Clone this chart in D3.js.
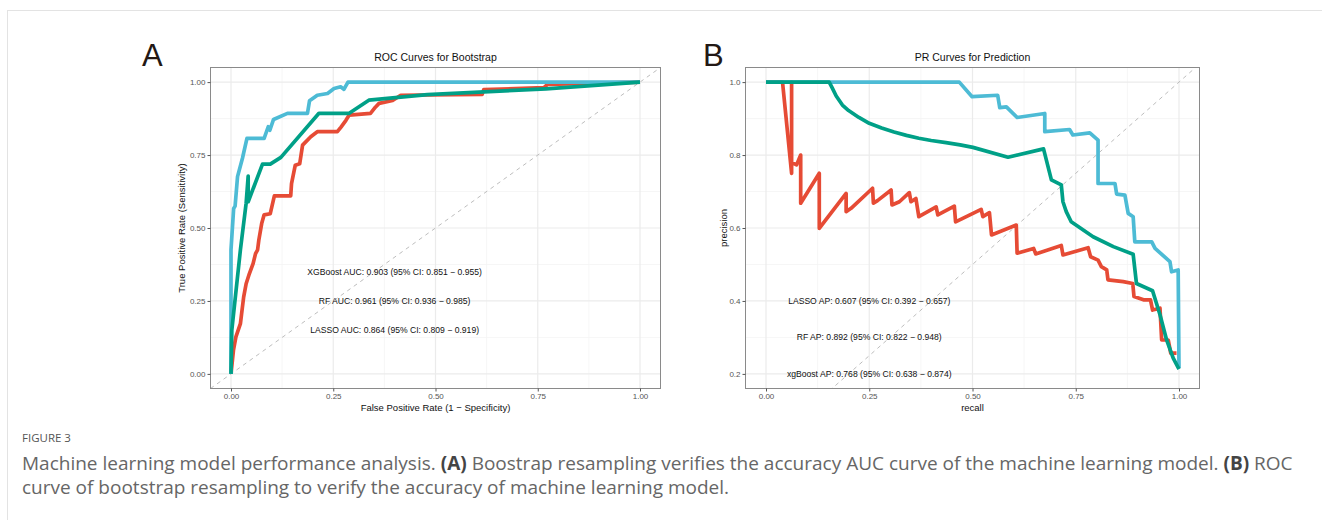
<!DOCTYPE html>
<html lang="en">
<head>
<meta charset="UTF-8">
<title>Figure 3</title>
<script src="https://d3js.org/d3.v7.min.js"></script>
<style>
  body { margin: 0; background: #fff; }
  .plot text { font-family: "Liberation Sans", Arial, sans-serif; }
  .caption text { font-family: "Open Sans", "Noto Sans", sans-serif; }
</style>
</head>
<body>
<script>
// ROC curves (fpr, tpr)
const rocLasso = [[0,0],[0.006,0.081],[0.012,0.127],[0.023,0.172],[0.026,0.207],[0.031,0.264],[0.037,0.309],
  [0.045,0.344],[0.054,0.378],[0.060,0.412],[0.065,0.425],[0.068,0.458],[0.075,0.515],[0.081,0.545],[0.096,0.549],
  [0.106,0.61],[0.146,0.61],[0.148,0.652],[0.157,0.715],[0.168,0.720],[0.175,0.784],[0.195,0.813],[0.211,0.83],
  [0.26,0.83],[0.269,0.846],[0.281,0.869],[0.289,0.887],[0.341,0.893],[0.353,0.914],[0.362,0.927],[0.395,0.937],
  [0.415,0.955],[0.614,0.958],[0.618,0.974],[0.765,0.981],[0.774,0.992],[1,1]];
const rocRf = [[0,0],[0,0.425],[0.0065,0.567],[0.010,0.575],[0.016,0.676],[0.028,0.739],[0.039,0.807],[0.081,0.807],
  [0.091,0.847],[0.095,0.835],[0.104,0.872],[0.138,0.893],[0.187,0.893],[0.192,0.936],[0.211,0.955],[0.236,0.961],
  [0.252,0.978],[0.268,0.984],[0.276,0.975],[0.286,1.0],[1,1]];
const rocXgb = [[0,0],[0.002,0.15],[0.023,0.425],[0.037,0.585],[0.042,0.678],[0.042,0.59],[0.077,0.719],[0.096,0.719],
  [0.122,0.742],[0.215,0.893],[0.289,0.893],[0.337,0.938],[0.48,0.957],[0.77,0.977],[1,1]];

// PR curves (recall, precision)
const prLasso = [[0,1],[0.040,1],[0.062,0.75],[0.062,1],[0.062,0.78],[0.074,0.773],[0.084,0.80],[0.084,0.668],
  [0.096,0.69],[0.129,0.75],[0.129,0.599],[0.141,0.617],[0.194,0.695],[0.194,0.645],[0.206,0.654],[0.258,0.709],
  [0.260,0.668],[0.270,0.675],[0.303,0.704],[0.305,0.663],[0.323,0.672],[0.347,0.697],[0.351,0.672],[0.363,0.681],
  [0.370,0.631],[0.412,0.658],[0.416,0.636],[0.456,0.66],[0.459,0.617],[0.521,0.651],[0.525,0.631],[0.541,0.642],
  [0.546,0.581],[0.606,0.608],[0.608,0.531],[0.648,0.544],[0.653,0.529],[0.715,0.552],[0.719,0.526],[0.780,0.546],
  [0.786,0.521],[0.804,0.512],[0.812,0.494],[0.825,0.485],[0.828,0.458],[0.865,0.453],[0.888,0.448],[0.891,0.412],
  [0.914,0.403],[0.931,0.403],[0.936,0.375],[0.954,0.38],[0.958,0.293],[0.974,0.293],[0.980,0.257],[0.994,0.257]];
const prRf = [[0,1],[0.468,1],[0.499,0.96],[0.561,0.964],[0.566,0.93],[0.582,0.932],[0.608,0.903],[0.675,0.914],
  [0.675,0.864],[0.735,0.87],[0.743,0.855],[0.784,0.861],[0.804,0.841],[0.804,0.722],[0.845,0.722],[0.849,0.693],
  [0.869,0.69],[0.877,0.64],[0.889,0.631],[0.893,0.562],[0.934,0.562],[0.942,0.544],[0.978,0.508],[0.982,0.48],
  [0.998,0.485],[1,0.216]];
const prXgb = [[0,1],[0.153,1],[0.160,0.985],[0.170,0.962],[0.185,0.937],[0.200,0.922],[0.225,0.903],[0.250,0.887],
  [0.280,0.874],[0.310,0.863],[0.340,0.854],[0.370,0.846],[0.400,0.840],[0.436,0.834],[0.470,0.828],[0.501,0.821],
  [0.586,0.794],[0.672,0.817],[0.691,0.732],[0.715,0.718],[0.719,0.672],[0.727,0.645],[0.739,0.617],
  [0.792,0.576],[0.841,0.549],[0.889,0.528],[0.897,0.448],[0.936,0.428],[0.954,0.362],[0.970,0.293],[0.986,0.243],
  [1,0.213]];

const rocLabels = ["XGBoost AUC: 0.903 (95% CI: 0.851 \u2212 0.955)",
  "RF AUC: 0.961 (95% CI: 0.936 \u2212 0.985)",
  "LASSO AUC: 0.864 (95% CI: 0.809 \u2212 0.919)"];
const rocLabelY = [0.35, 0.25, 0.15];
const prLabels = ["LASSO AP: 0.607 (95% CI: 0.392 \u2212 0.657)",
  "RF AP: 0.892 (95% CI: 0.822 \u2212 0.948)",
  "xgBoost AP: 0.768 (95% CI: 0.638 \u2212 0.874)"];
const prLabelY = [0.4, 0.3, 0.2];

const colors = { lasso: "#E64B35", rf: "#4DBBD5", xgb: "#00A087" };

const svg = d3.select("body").append("svg")
  .attr("width", 1322).attr("height", 520);

// card border
svg.append("rect").attr("x", 7.5).attr("y", 10.5).attr("width", 1330).attr("height", 530)
  .attr("fill", "none").attr("stroke", "#e3e3e3");

function panel(opt) {
  const { left, right, top, bottom } = opt;
  const x = d3.scaleLinear().domain([0, 1]).range([left + 20.5, right - 20.5]);
  const y = d3.scaleLinear().domain(opt.yDomain).range([bottom - 14.6, top + 14.6]);
  const g = svg.append("g").attr("class", "plot");

  // minor grid
  const xMinor = d3.range(0.125, 1, 0.25);
  g.selectAll(".xm").data(xMinor).join("line")
    .attr("x1", d => x(d)).attr("x2", d => x(d)).attr("y1", top).attr("y2", bottom)
    .attr("stroke", "#f4f4f4").attr("stroke-width", 0.8);
  g.selectAll(".ym").data(opt.yMinor).join("line")
    .attr("y1", d => y(d)).attr("y2", d => y(d)).attr("x1", left).attr("x2", right)
    .attr("stroke", "#f4f4f4").attr("stroke-width", 0.8);
  // major grid
  g.selectAll(".xg").data(opt.xTicks).join("line")
    .attr("x1", d => x(d)).attr("x2", d => x(d)).attr("y1", top).attr("y2", bottom)
    .attr("stroke", "#ebebeb").attr("stroke-width", 1.2);
  g.selectAll(".yg").data(opt.yTicks).join("line")
    .attr("y1", d => y(d)).attr("y2", d => y(d)).attr("x1", left).attr("x2", right)
    .attr("stroke", "#ebebeb").attr("stroke-width", 1.2);

  const clipId = "clip" + opt.id;
  svg.append("clipPath").attr("id", clipId).append("rect")
    .attr("x", left).attr("y", top).attr("width", right - left).attr("height", bottom - top);

  // diagonal reference line
  const dl = x.invert(left), dr = x.invert(right);
  g.append("line").attr("clip-path", `url(#${clipId})`)
    .attr("x1", x(dl)).attr("y1", y(dl)).attr("x2", x(dr)).attr("y2", y(dr))
    .attr("stroke", "#bdbdbd").attr("stroke-width", 1).attr("stroke-dasharray", "4,4");

  const line = d3.line().x(d => x(d[0])).y(d => y(d[1]));
  opt.series.forEach(s => {
    g.append("path").datum(s.data).attr("d", line)
      .attr("fill", "none").attr("stroke", s.color).attr("stroke-width", 3.7)
      .attr("stroke-linejoin", "round");
  });

  opt.labels.forEach((t, i) => {
    g.append("text").attr("x", x(opt.labelX)).attr("y", y(opt.labelY[i]) + 3)
      .attr("text-anchor", "middle").attr("font-size", 8.6).attr("fill", "#111").text(t);
  });

  g.append("rect").attr("x", left).attr("y", top).attr("width", right - left).attr("height", bottom - top)
    .attr("fill", "none").attr("stroke", "#8a8a8a").attr("stroke-width", 1);

  const xa = g.append("g").attr("transform", `translate(0,${bottom})`)
    .call(d3.axisBottom(x).tickValues(opt.xTicks).tickFormat(d3.format(".2f")).tickSize(3).tickPadding(2));
  const ya = g.append("g").attr("transform", `translate(${left},0)`)
    .call(d3.axisLeft(y).tickValues(opt.yTicks).tickFormat(d3.format(opt.yFmt)).tickSize(3).tickPadding(2));
  [xa, ya].forEach(a => {
    a.select(".domain").remove();
    a.selectAll(".tick line").attr("stroke", "#555");
    a.selectAll(".tick text").attr("fill", "#555").attr("font-size", 8);
  });

  g.append("text").attr("x", (left + right) / 2).attr("y", top - 7).attr("text-anchor", "middle")
    .attr("font-size", 10.5).attr("fill", "#111").text(opt.title);
  g.append("text").attr("x", (left + right) / 2).attr("y", bottom + 22).attr("text-anchor", "middle")
    .attr("font-size", 9.5).attr("fill", "#111").text(opt.xTitle);
  g.append("text").attr("transform", `translate(${opt.yTitleX},${(top + bottom) / 2}) rotate(-90)`)
    .attr("text-anchor", "middle").attr("font-size", 9.5).attr("fill", "#111").text(opt.yTitle);
  g.append("text").attr("x", opt.letterX).attr("y", 66).attr("font-size", 31).attr("fill", "#231815")
    .text(opt.letter);
}

panel({
  id: "A", left: 210.5, right: 660.5, top: 67.5, bottom: 388.5,
  yDomain: [0, 1], xTicks: [0, 0.25, 0.5, 0.75, 1], yTicks: [0, 0.25, 0.5, 0.75, 1],
  yMinor: [0.125, 0.375, 0.625, 0.875], yFmt: ".2f",
  series: [{ data: rocLasso, color: colors.lasso }, { data: rocRf, color: colors.rf }, { data: rocXgb, color: colors.xgb }],
  labels: rocLabels, labelY: rocLabelY, labelX: 0.4,
  title: "ROC Curves for Bootstrap", xTitle: "False Positive Rate (1 \u2212 Specificity)",
  yTitle: "True Positive Rate (Sensitivity)", yTitleX: 185, letter: "A", letterX: 142
});

panel({
  id: "B", left: 745.5, right: 1199.5, top: 67.5, bottom: 388.5,
  yDomain: [0.2, 1], xTicks: [0, 0.25, 0.5, 0.75, 1], yTicks: [0.2, 0.4, 0.6, 0.8, 1],
  yMinor: [0.3, 0.5, 0.7, 0.9], yFmt: ".1f",
  series: [{ data: prLasso, color: colors.lasso }, { data: prRf, color: colors.rf }, { data: prXgb, color: colors.xgb }],
  labels: prLabels, labelY: prLabelY, labelX: 0.25,
  title: "PR Curves for Prediction", xTitle: "recall",
  yTitle: "precision", yTitleX: 727, letter: "B", letterX: 703
});

// caption
const cap = svg.append("g").attr("class", "caption");
cap.append("text").attr("x", 22).attr("y", 442).attr("font-size", 11.5).attr("fill", "#555")
  .text("FIGURE 3");
const l1 = cap.append("text").attr("x", 22).attr("y", 470).attr("font-size", 19).attr("fill", "#666");
l1.append("tspan").text("Machine learning model performance analysis. ");
l1.append("tspan").attr("font-weight", "bold").attr("fill", "#444").text("(A)");
l1.append("tspan").text(" Boostrap resampling verifies the accuracy AUC curve of the machine learning model. ");
l1.append("tspan").attr("font-weight", "bold").attr("fill", "#444").text("(B)");
l1.append("tspan").text(" ROC");
cap.append("text").attr("x", 22).attr("y", 494).attr("font-size", 19).attr("fill", "#666")
  .text("curve of bootstrap resampling to verify the accuracy of machine learning model.");
</script>
</body>
</html>
